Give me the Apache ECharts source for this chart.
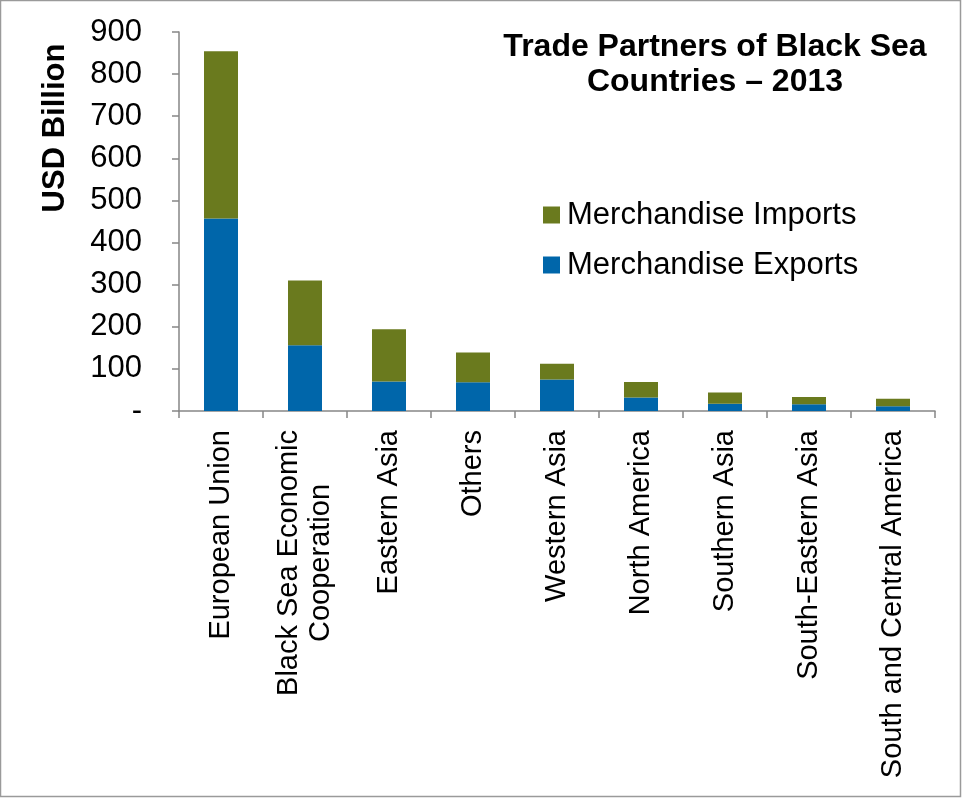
<!DOCTYPE html>
<html>
<head>
<meta charset="utf-8">
<script src="https://cdn.jsdelivr.net/npm/echarts@6/dist/echarts.min.js"></script>
<style>
  html, body { margin: 0; padding: 0; background: #fff; }
  #chart { width: 962px; height: 798px; }
</style>
</head>
<body>
<div id="chart"></div>
<script>
// Trade partners of Black Sea countries, 2013 (USD billion)
const categories = [
  'European Union',
  'Black Sea Economic\nCooperation',
  'Eastern Asia',
  'Others',
  'Western Asia',
  'North America',
  'Southern Asia',
  'South-Eastern Asia',
  'South and Central America'
];
const exportsData = [457, 156, 70, 68, 75, 32, 17, 16, 11];
const importsData = [397, 154, 124, 71, 37, 37, 27, 17, 18];
const yTicks = { min: 0, max: 900, interval: 100 };

const font = "'Liberation Sans', Arial, sans-serif";
const axisGrey = '#868686';

const chart = echarts.init(document.getElementById('chart'));
chart.setOption({
  animation: false,
  backgroundColor: '#fff',
  textStyle: { fontFamily: font },
  title: {
    text: 'Trade Partners of Black Sea\nCountries \u2013 2013',
    left: 710,
    top: 25,
    textAlign: 'center',
    textStyle: { fontSize: 32, fontWeight: 'bold', color: '#000', lineHeight: 35, fontFamily: font }
  },
  legend: {
    orient: 'vertical',
    left: 538,
    top: 194,
    itemWidth: 17,
    itemHeight: 17,
    itemGap: 18,
    icon: 'rect',
    data: ['Merchandise Imports', 'Merchandise Exports'],
    textStyle: { fontSize: 31, lineHeight: 32, color: '#000', fontFamily: font, padding: [0, 0, 0, 2] }
  },
  grid: { left: 179, top: 32, right: 27, bottom: 387, containLabel: false },
  xAxis: {
    type: 'category',
    data: categories,
    axisLine: { lineStyle: { color: axisGrey, width: 1.5 } },
    axisTick: { show: true, alignWithLabel: false, length: 7, lineStyle: { color: axisGrey, width: 1.5 } },
    axisLabel: {
      rotate: 90,
      interval: 0,
      margin: 19,
      color: '#000',
      align: 'right',
      fontFamily: font,
      // each line of a label centred on the others
      formatter: v => v.split('\n').map(s => '{c|' + s + '}').join('\n'),
      rich: {
        c: { fontSize: 29, lineHeight: 32, align: 'center', color: '#000', fontFamily: font }
      }
    }
  },
  yAxis: {
    type: 'value',
    min: yTicks.min,
    max: yTicks.max,
    interval: yTicks.interval,
    splitLine: { show: false },
    axisLine: { show: true, lineStyle: { color: axisGrey, width: 1.5 } },
    axisTick: { show: true, length: 7, lineStyle: { color: axisGrey, width: 1.5 } },
    axisLabel: {
      fontSize: 31,
      color: '#000',
      margin: 37,
      fontFamily: font,
      formatter: v => (v === 0 ? '-' : String(v))
    }
  },
  series: [
    {
      name: 'Merchandise Exports',
      type: 'bar',
      stack: 'trade',
      data: exportsData,
      barWidth: 34,
      itemStyle: { color: '#0066AA' }
    },
    {
      name: 'Merchandise Imports',
      type: 'bar',
      stack: 'trade',
      data: importsData,
      barWidth: 34,
      itemStyle: { color: '#6A7A1E' }
    }
  ],
  graphic: [
    {
      type: 'text',
      x: 55,
      y: 128,
      rotation: Math.PI / 2,
      style: {
        text: 'USD Billion',
        fontSize: 31,
        fontWeight: 'bold',
        fontFamily: font,
        fill: '#000',
        align: 'center',
        verticalAlign: 'middle'
      },
      silent: true
    },
    {
      type: 'rect',
      shape: { x: 0.5, y: 0.5, width: 960, height: 796 },
      style: { fill: 'none', stroke: '#9a9a9a', lineWidth: 1.5 },
      silent: true
    }
  ]
});
</script>
</body>
</html>
